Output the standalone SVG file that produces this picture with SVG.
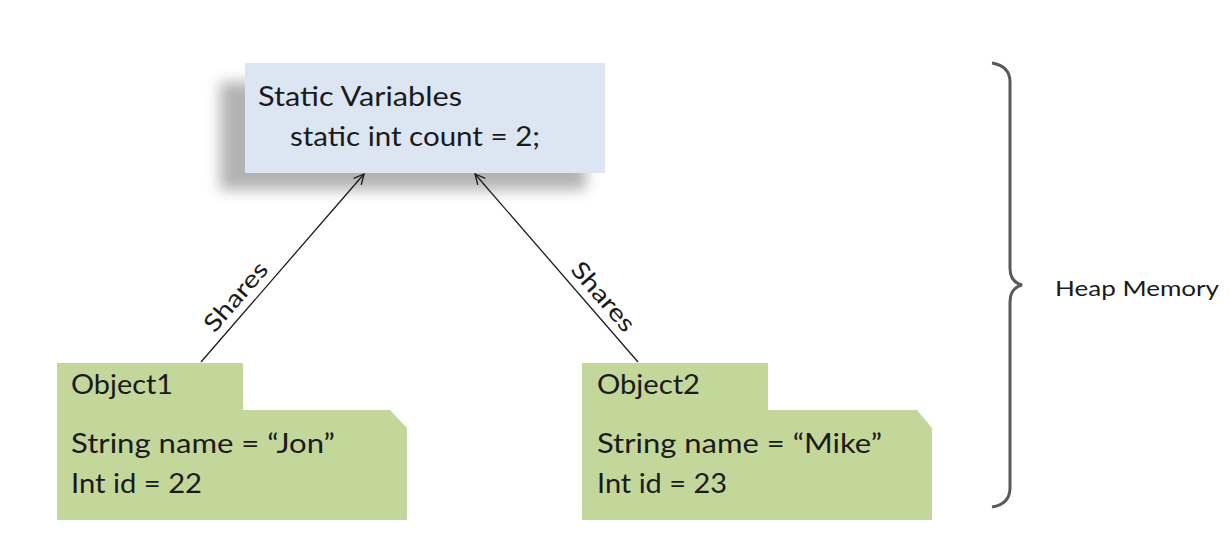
<svg xmlns="http://www.w3.org/2000/svg" width="1229" height="550" viewBox="0 0 1229 550">
<style>
.t{font-family:Lato,"Open Sans","Liberation Sans",sans-serif;fill:#1a1a1a}
.obj{fill:#c4d79b}
.conn{stroke:#1a1a1a;stroke-width:1.3;fill:none}
</style>
<defs>
<filter id="blur" x="-20%" y="-40%" width="140%" height="180%"><feGaussianBlur stdDeviation="7"/></filter>
<marker id="arr" viewBox="0 0 12 12" refX="11" refY="6" markerWidth="12" markerHeight="12" markerUnits="userSpaceOnUse" orient="auto"><path d="M1,1 L11,6 L1,11" fill="none" stroke="#1a1a1a" stroke-width="1.3"/></marker>
</defs>
<rect width="1229" height="550" fill="#ffffff"/>
<g id="static">
<rect x="220" y="82" width="366" height="108" fill="#8a8a8a" opacity="0.65" filter="url(#blur)"/>
<rect x="245" y="63" width="360" height="110" fill="#dce6f2"/>
<text class="t" x="258" y="106" font-size="27" textLength="204" lengthAdjust="spacingAndGlyphs">Static Variables</text>
<text class="t" x="290" y="146" font-size="27" textLength="250" lengthAdjust="spacingAndGlyphs">static int count = 2;</text>
</g>
<g id="connectors">
<line class="conn" x1="201" y1="362" x2="364" y2="174" marker-end="url(#arr)"/>
<line class="conn" x1="638" y1="362" x2="475" y2="174" marker-end="url(#arr)"/>
<text class="t" font-size="24" text-anchor="middle" transform="translate(242,302) rotate(-49)" textLength="84" lengthAdjust="spacingAndGlyphs">Shares</text>
<text class="t" font-size="24" text-anchor="middle" transform="translate(597,302) rotate(49)" textLength="84" lengthAdjust="spacingAndGlyphs">Shares</text>
</g>
<g id="object1">
<path class="obj" d="M57,363 H243 V410 H390 L407,428 V520 H57 Z"/>
<text class="t" x="71" y="394" font-size="27" textLength="102" lengthAdjust="spacingAndGlyphs">Object1</text>
<text class="t" x="71" y="453" font-size="27" textLength="264" lengthAdjust="spacingAndGlyphs">String name = “Jon”</text>
<text class="t" x="71" y="493" font-size="27" textLength="131" lengthAdjust="spacingAndGlyphs">Int id = 22</text>
</g>
<g id="object2">
<path class="obj" d="M582,363 H768 V410 H917 L932,428 V520 H582 Z"/>
<text class="t" x="597" y="394" font-size="27" textLength="103" lengthAdjust="spacingAndGlyphs">Object2</text>
<text class="t" x="597" y="453" font-size="27" textLength="285" lengthAdjust="spacingAndGlyphs">String name = “Mike”</text>
<text class="t" x="597" y="493" font-size="27" textLength="130" lengthAdjust="spacingAndGlyphs">Int id = 23</text>
</g>
<g id="heap">
<path d="M992,63 Q1010,66 1010,82 V268 Q1010,282 1022,285 Q1010,288 1010,302 V488 Q1010,504 992,507" fill="none" stroke="#595959" stroke-width="3"/>
<text class="t" x="1055" y="296" font-size="22" textLength="164" lengthAdjust="spacingAndGlyphs">Heap Memory</text>
</g>
</svg>
